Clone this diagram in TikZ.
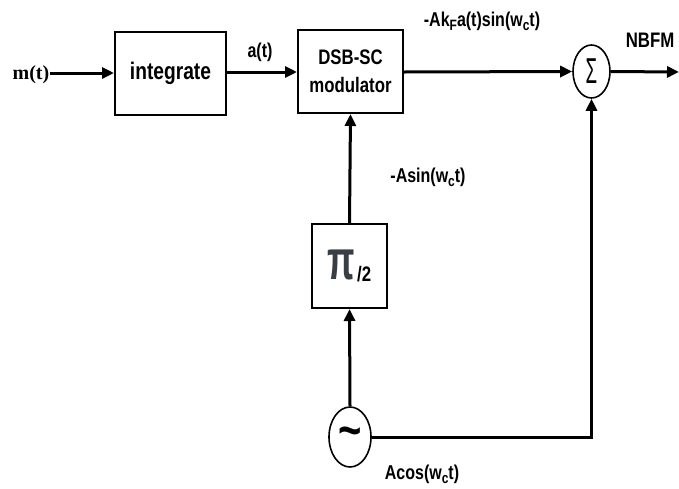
\documentclass[tikz,border=0pt]{standalone}
\usepackage{fontspec}
\setmainfont{Liberation Sans}[FakeStretch=0.8]
\newfontfamily\serifm{Liberation Serif}
\usetikzlibrary{arrows.meta,shapes.geometric}
\newcommand\sbs[1]{\raisebox{-4pt}{\fontsize{15}{15}\selectfont\bfseries #1}}
\begin{document}
\begin{tikzpicture}[x=1pt,y=-1pt,
  blk/.style={draw,line width=2pt,inner sep=0pt},
  circ/.style={draw,ellipse,line width=1.6pt,inner sep=0pt},
  lbl/.style={inner sep=0pt,font=\fontsize{20}{22}\selectfont\bfseries},
  conn/.style={line width=3pt,-{Triangle[length=12pt,width=11pt]}}]
\useasboundingbox[fill=white] (0,0) rectangle (679,488);
% blocks
\node[blk,minimum width=111pt,minimum height=83pt,font=\fontsize{24}{26}\selectfont\bfseries] (int) at (170.5,73.5) {integrate};
\node[blk,minimum width=105pt,minimum height=83pt,align=center,font=\fontsize{21}{28}\selectfont\bfseries] (dsb) at (350.5,71.5) {DSB-SC\\modulator};
\node[blk,minimum width=75pt,minimum height=84pt] (pi) at (349.5,266) {\textcolor[HTML]{383E44}{\fontsize{56}{56}\selectfont\bfseries\scalebox{0.8}[1]{π}}\hspace{2pt}\raisebox{-2pt}{\fontsize{21}{21}\selectfont\bfseries /2}};
\node[circ,minimum width=37pt,minimum height=53pt] (sum) at (591.5,71.5) {\fontsize{36}{36}\selectfont\scalebox{0.65}[1]{Σ}};
\node[circ,minimum width=42pt,minimum height=60pt] (osc) at (350,437) {\fontsize{50}{50}\selectfont\bfseries\raisebox{-5pt}{\char`~}};
% input / output
\node[inner sep=0pt,font=\serifm\fontsize{20}{20}\selectfont\bfseries] (m) at (31,75) {m(t)};
\coordinate (out) at (679,72);
% labels
\node[lbl] (la) at (260,52) {a(t)};
\node[lbl] (lak) at (482,21) {-Ak\sbs{F}a(t)sin(w\sbs{c}t)};
\node[lbl,font=\fontsize{21}{22}\selectfont\bfseries] (lnb) at (650,40) {NBFM};
\node[lbl] (las) at (428,177) {-Asin(w\sbs{c}t)};
\node[lbl] (lac) at (422,474) {Acos(w\sbs{c}t)};
% connectors
\coordinate (ms) at (50,73);
\draw[conn] (ms) -- (int.west |- ms);
\draw[conn] (int.east |- 0,72) -- (dsb.west |- 0,72);
\draw[conn] (dsb.east |- 0,72) -- (sum.west);
\draw[conn] (sum.east) -- (out);
\draw[conn] (pi.north) -- (dsb.south);
\draw[conn] (osc.north) -- (pi.south);
\draw[conn] (osc.east) -| (sum.south);
\end{tikzpicture}
\end{document}
